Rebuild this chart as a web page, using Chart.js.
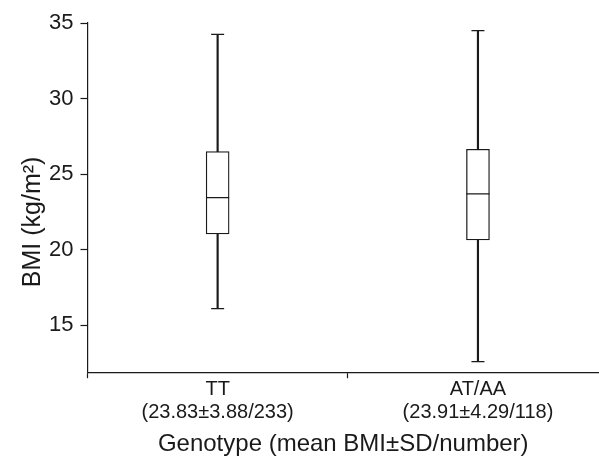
<!DOCTYPE html>
<html>
<head>
<meta charset="utf-8">
<script src="https://cdn.jsdelivr.net/npm/chart.js@4"></script>
<style>
  html, body { margin: 0; padding: 0; background: #fff; }
  #wrap { width: 599px; height: 466px; }
</style>
</head>
<body>
<div id="wrap"><canvas id="bmiChart" width="599" height="466"></canvas></div>
<script>
// genotype groups
const genotypes = ['TT', 'AT/AA'];
const groupStats = ['(23.83\u00b13.88/233)', '(23.91\u00b14.29/118)'];

// box plot values
const whiskerMin = [16.1, 12.6];
const boxQ1 = [21.05, 20.65];
const boxMedian = [23.45, 23.7];
const boxQ3 = [26.5, 26.65];
const whiskerMax = [34.25, 34.5];

const yTickValues = [15, 20, 25, 30, 35];

const ink = '#1a1a1a';
const family = "'Liberation Sans', Arial, sans-serif";

const whiskerData = genotypes.map((g, i) => ({ x: i + 0.5, y: [whiskerMin[i], whiskerMax[i]] }));
const boxData = genotypes.map((g, i) => ({ x: i + 0.5, y: [boxQ1[i], boxQ3[i]] }));
const medianData = genotypes.map((g, i) => ({ x: i + 0.5, y: boxMedian[i] }));
const capData = [];
genotypes.forEach((g, i) => {
  capData.push({ x: i + 0.5, y: whiskerMin[i] });
  capData.push({ x: i + 0.5, y: whiskerMax[i] });
});

const ctx = document.getElementById('bmiChart').getContext('2d');

new Chart(ctx, {
  type: 'bar',
  data: {
    datasets: [
      {
        label: 'whisker',
        data: whiskerData,
        backgroundColor: ink,
        borderWidth: 0,
        barThickness: 1.5,
        grouped: false,
        order: 4
      },
      {
        label: 'box',
        data: boxData,
        backgroundColor: '#fff',
        borderColor: ink,
        borderWidth: 1.3,
        borderSkipped: false,
        barThickness: 23,
        grouped: false,
        order: 3
      },
      {
        type: 'line',
        label: 'median',
        data: medianData,
        showLine: false,
        pointStyle: 'line',
        pointRadius: 11.5,
        pointBorderWidth: 1.3,
        pointBorderColor: ink,
        order: 2
      },
      {
        type: 'line',
        label: 'caps',
        data: capData,
        showLine: false,
        pointStyle: 'line',
        pointRadius: 6.5,
        pointBorderWidth: 1.3,
        pointBorderColor: ink,
        order: 1
      }
    ]
  },
  options: {
    responsive: false,
    maintainAspectRatio: false,
    animation: false,
    layout: { autoPadding: false, padding: { top: 23, right: 0, left: 12, bottom: 7 } },
    plugins: {
      legend: { display: false },
      tooltip: { enabled: false }
    },
    scales: {
      x: {
        type: 'linear',
        offset: false,
        min: 0,
        max: 1.965,
        afterBuildTicks: (axis) => {
          axis.ticks = genotypes.map((g, i) => ({ value: i + 0.5 }));
        },
        afterFit: (axis) => {
          // labels sit well inside the plot, no edge overflow
          axis.paddingLeft = 0;
          axis.paddingRight = 0;
        },
        ticks: {
          color: ink,
          font: { family: family, size: 20, lineHeight: 1.15 },
          padding: 0,
          maxRotation: 0,
          autoSkip: false,
          callback: (value, index) => [genotypes[index], groupStats[index]]
        },
        grid: {
          offset: true,
          drawOnChartArea: false,
          drawTicks: true,
          tickLength: 6,
          tickWidth: 1.2,
          tickColor: ink
        },
        border: { display: true, color: ink, width: 1.2 },
        title: {
          display: true,
          text: 'Genotype (mean BMI\u00b1SD/number)',
          color: ink,
          font: { family: family, size: 24 },
          padding: { top: 6, bottom: 0 }
        }
      },
      y: {
        type: 'linear',
        min: 11.9,
        max: 35,
        afterBuildTicks: (axis) => {
          axis.ticks = yTickValues.map(v => ({ value: v }));
        },
        ticks: {
          color: ink,
          font: { family: family, size: 22 },
          padding: 7
        },
        grid: {
          drawOnChartArea: false,
          drawTicks: true,
          tickLength: 7,
          tickWidth: 1.2,
          tickColor: ink
        },
        border: { display: true, color: ink, width: 1.2 },
        title: {
          display: true,
          text: 'BMI (kg/m\u00b2)\u00a0\u00a0\u00a0\u00a0\u00a0\u00a0\u00a0',
          color: ink,
          font: { family: family, size: 25 },
          padding: { top: 6, bottom: -6 }
        }
      }
    }
  }
});
</script>
</body>
</html>
